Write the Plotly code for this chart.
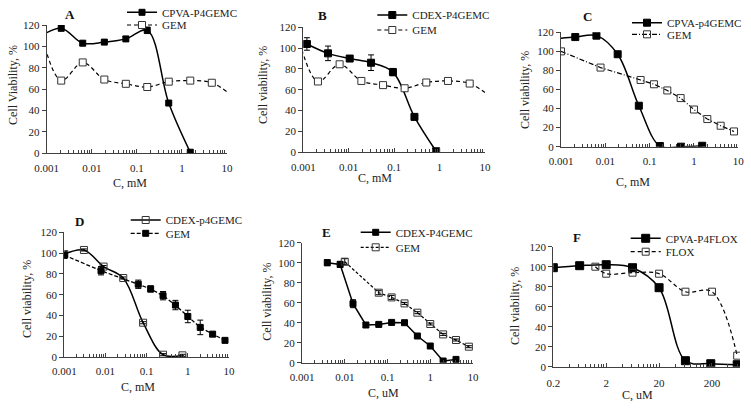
import math
import plotly.graph_objects as go

W, H = 751, 408

# ---------------- data ----------------
# Panel A
a_x = [0.0007, 0.0021, 0.0063, 0.019, 0.057, 0.17, 0.51, 1.53]
a_cpva = [109, 117, 103, 104, 107, 115, 47, 1]
a_cpva_err = [0, 2.5, 2, 1, 2, 3, 1, 2]
a_gem_x = [0.0007, 0.0021, 0.0063, 0.019, 0.057, 0.17, 0.51, 1.53, 4.6, 13.8]
a_gem = [118, 68, 85, 69, 65, 62, 67, 68, 66, 53]
a_gem_err = [0, 1.5, 1, 1, 1, 3, 1, 1, 1, 0]

# Panel B
b_x = [0.0012, 0.0035, 0.0105, 0.031, 0.094, 0.28, 0.84]
b_cdex = [104, 95, 90, 86, 77, 34, 1]
b_cdex_err = [6, 7, 2, 7.5, 3.5, 1, 0]
b_gem_x = [0.0007, 0.0021, 0.0063, 0.019, 0.057, 0.17, 0.51, 1.53, 4.6, 13.8]
b_gem = [118, 68, 84.5, 68.5, 64.5, 61.5, 67, 68.5, 66, 53]
b_gem_err = [0, 1, 1, 1, 1, 1.5, 1, 1, 1, 0]

# Panel C
c_x = [0.0007, 0.0021, 0.0063, 0.019, 0.057, 0.17, 0.51, 1.53]
c_cpva = [113, 115, 116.5, 97, 43, 0.7, 0, 1]
c_gem_x = [0.001, 0.0078, 0.0625, 0.125, 0.25, 0.5, 1, 2, 4, 8]
c_gem = [100, 83, 70, 65.5, 59, 51, 39, 29, 22, 16]

# Panel D
d_x = [0.001, 0.003, 0.009, 0.027, 0.082, 0.25, 0.74]
d_cdex = [99, 103, 87, 76, 33, 2.2, 1.6]
d_cdex_err = [2, 1, 1, 1, 1, 1, 1]
d_gem_x = [0.001, 0.0078, 0.0625, 0.125, 0.25, 0.5, 1, 2, 4, 8]
d_gem = [98, 83, 70, 65.5, 59, 50, 39, 28.5, 22, 16]
d_gem_err = [3, 4, 4, 3, 4, 4.5, 6, 7, 2, 1]

# Panel E
e_x = [0.0039, 0.0078, 0.0156, 0.03125, 0.0625, 0.125, 0.25, 0.5, 1, 2, 4]
e_cdex = [100, 98.3, 59, 37.7, 38.3, 40.3, 40, 26.7, 16.7, 1.7, 3.3]
e_cdex_err = [3, 3, 4, 2.5, 1, 1, 1, 1, 1, 0, 0]
e_gem_x = [0.01, 0.0625, 0.125, 0.25, 0.5, 1, 2, 4, 8]
e_gem = [101, 70, 65.3, 59.3, 50, 38.7, 28.3, 22.7, 16]
e_gem_err = [3, 2, 2, 1, 1, 1, 1, 1, 1]

# Panel F
f_x = [0.2, 0.63, 2, 6.3, 20, 63, 190, 600]
f_cpva = [99, 101, 102, 99, 79, 6, 3, 2]
f_flox_x = [1.25, 2, 6.3, 20, 63, 200, 600]
f_flox = [100, 93, 94, 93, 75, 75, 11]

mm_ticks = [0.001, 0.01, 0.1, 1, 10]
mm_ticktext = ["0.001", "0.01", "0.1", "1", "10"]
um_ticks = [0.2, 2, 20, 200]
um_ticktext = ["0.2", "2", "20", "200"]

# ---------------- layout helpers ----------------
FONT = "Liberation Serif"
AX = "#404040"


def fx(p):
    return p / W


def fy(p):
    return 1 - p / H


# panel boxes in pixels: x0, x1, ytop, ybottom, xrange(log), label standoff
panels = {
    1: (46.7, 227.0, 25.0, 153.3, [-3, 1], 4),
    2: (303.3, 485.0, 27.3, 152.3, [-3, 1], 4),
    3: (561.0, 738.3, 32.3, 146.7, [-3, 1], 4),
    4: (64.3, 229.0, 232.3, 357.0, [-3, 1], 4),
    5: (302.0, 473.0, 242.7, 362.7, [-3, 1], 4),
    6: (553.3, 740.0, 246.7, 366.7,
        [math.log10(0.2), math.log10(0.2) + 3.53], 6),
}

fig = go.Figure()


def line_trace(n, x, y, name, legend, dash="solid", width=1.5, shape="spline",
               smoothing=1.0, msym="square", msize=6, mcolor="black",
               mline="black", err=None):
    ax = "" if n == 1 else str(n)
    tr = go.Scatter(
        x=x, y=y, name=name, mode="lines+markers",
        xaxis="x" + ax, yaxis="y" + ax, legend=legend,
        line=dict(color="black", width=width, dash=dash, shape=shape,
                  smoothing=smoothing),
        marker=dict(symbol=msym, size=msize, color=mcolor,
                    line=dict(color=mline, width=1)),
    )
    if err is not None:
        tr.error_y = dict(type="data", array=err, visible=True,
                          color="black", thickness=1, width=3)
    fig.add_trace(tr)


# Panel A
line_trace(1, a_x, a_cpva, "CPVA-P4GEMC", "legend", err=a_cpva_err)
line_trace(1, a_gem_x, a_gem, "GEM", "legend2", dash="4px,3px", width=1.2,
           mcolor="white", mline="#333", msize=7, err=a_gem_err)
# Panel B
line_trace(2, b_x, b_cdex, "CDEX-P4GEMC", "legend3", msize=7, err=b_cdex_err)
line_trace(2, b_gem_x, b_gem, "GEM", "legend4", dash="4px,3px", width=1.2,
           mcolor="white", mline="#333", msize=7, err=b_gem_err)
# Panel C
line_trace(3, c_x, c_cpva, "CPVA-p4GEMC", "legend5", msize=7)
line_trace(3, c_gem_x, c_gem, "GEM", "legend6", dash="5px,2px,1px,2px",
           width=1.2, shape="linear", msym="square-open", mcolor="#333",
           msize=7)
# Panel D
line_trace(4, d_x, d_cdex, "CDEX-p4GEMC", "legend7", msym="square-open",
           mcolor="#333", msize=7, err=d_cdex_err)
line_trace(4, d_gem_x, d_gem, "GEM", "legend8", dash="4px,2px", width=1.3,
           shape="linear", msize=6, err=d_gem_err)
# Panel E
line_trace(5, e_x, e_cdex, "CDEX-P4GEMC", "legend9", shape="linear",
           msize=6, err=e_cdex_err)
line_trace(5, e_gem_x, e_gem, "GEM", "legend10", dash="3px,2px", width=1.2,
           shape="linear", msym="square-open", mcolor="#333", msize=7,
           err=e_gem_err)
# Panel F
line_trace(6, f_x, f_cpva, "CPVA-P4FLOX", "legend11", msize=8)
line_trace(6, f_flox_x, f_flox, "FLOX", "legend12", dash="4px,3px",
           width=1.2, msym="square-open", mcolor="#333", msize=7)

layout = dict(
    width=W, height=H,
    margin=dict(l=0, r=0, t=0, b=0, autoexpand=False),
    paper_bgcolor="white", plot_bgcolor="white",
    font=dict(family=FONT, size=11, color="#222"),
    showlegend=True,
)


def minor_vals(lo, hi, base):
    vals = []
    d = base
    while d < hi * 1.0001:
        for k in range(2, 10):
            v = d * k
            if lo < v < hi:
                vals.append(v)
        d *= 10
    return vals


for n, (x0, x1, yt, yb, xr, so) in panels.items():
    ax = "" if n == 1 else str(n)
    if n == 6:
        tv, tt = um_ticks, um_ticktext
        mv = minor_vals(0.2, 10 ** xr[1], 0.2)
    else:
        tv, tt = mm_ticks, mm_ticktext
        mv = minor_vals(0.001, 10, 0.001)
    layout["xaxis" + ax] = dict(
        type="log", range=xr, domain=[fx(x0), fx(x1)],
        anchor="y" + ax, tickvals=tv, ticktext=tt,
        ticks="inside", ticklen=4, tickcolor=AX, tickwidth=1,
        ticklabelstandoff=so,
        showline=True, linecolor=AX, linewidth=1,
        showgrid=False, zeroline=False, automargin=False,
        tickfont=dict(family=FONT, size=11, color="#222"),
        minor=dict(tickvals=mv, ticks="inside", ticklen=3, tickcolor=AX,
                   tickwidth=1, showgrid=False),
    )
    layout["yaxis" + ax] = dict(
        range=[0, 120], domain=[fy(yb), fy(yt)], anchor="x" + ax,
        tickvals=[0, 20, 40, 60, 80, 100, 120],
        ticks="outside", ticklen=4, tickcolor=AX, tickwidth=1,
        showline=True, linecolor=AX, linewidth=1,
        showgrid=False, zeroline=False, automargin=False,
        tickfont=dict(family=FONT, size=11, color="#222"),
    )

# legends: (legend id, text start x, row center y)
legend_pos = [
    ("legend", 162, 12.3), ("legend2", 162, 25.0),
    ("legend3", 412.3, 15.0), ("legend4", 412.3, 30.0),
    ("legend5", 667.0, 22.7), ("legend6", 667.0, 34.3),
    ("legend7", 165.7, 220.0), ("legend8", 165.7, 233.3),
    ("legend9", 395.7, 232.3), ("legend10", 395.7, 247.3),
    ("legend11", 665.7, 238.3), ("legend12", 665.7, 251.7),
]
for lid, tx, ty in legend_pos:
    layout[lid] = dict(
        x=fx(tx - 40), y=fy(ty), xanchor="left", yanchor="middle",
        bgcolor="rgba(0,0,0,0)", borderwidth=0,
        font=dict(family=FONT, size=11, color="#222"),
        itemclick=False, itemdoubleclick=False,
    )

annotations = []
# panel letters
for txt, x, y in [("A", 70, 15), ("B", 322.7, 16), ("C", 587, 16.7),
                  ("D", 79, 221.7), ("E", 326, 232.3), ("F", 576.7, 237.3)]:
    annotations.append(dict(text="<b>%s</b>" % txt, x=fx(x), y=fy(y),
                            xref="paper", yref="paper", showarrow=False,
                            xanchor="center", yanchor="middle",
                            font=dict(family=FONT, size=13, color="#111")))
# x titles
for txt, x, y in [("C, mM", 130, 182.5), ("C, mM", 375, 178),
                  ("C, mM", 633, 182), ("C, mM", 138, 387),
                  ("C, uM", 383, 393), ("C, uM", 637, 395)]:
    annotations.append(dict(text=txt, x=fx(x), y=fy(y), xref="paper",
                            yref="paper", showarrow=False,
                            xanchor="center", yanchor="middle",
                            font=dict(family=FONT, size=12, color="#222")))
# y titles
for txt, x, y in [("Cell Viability, %", 13, 85), ("Cell viability, %", 263, 85),
                  ("Cell viability, %", 525, 90), ("Cell viability, %", 27, 299),
                  ("Cell viability, %", 266.7, 302),
                  ("Cell viability, %", 515, 306)]:
    annotations.append(dict(text=txt, x=fx(x), y=fy(y), xref="paper",
                            yref="paper", showarrow=False, textangle=-90,
                            xanchor="center", yanchor="middle",
                            font=dict(family=FONT, size=12, color="#222")))
layout["annotations"] = annotations

fig.update_layout(**layout)
fig.write_html(
    "out.html",
    config={"displayModeBar": False, "staticPlot": True},
    post_script="document.body.style.margin='0';"
                "document.body.style.overflow='hidden';",
)
